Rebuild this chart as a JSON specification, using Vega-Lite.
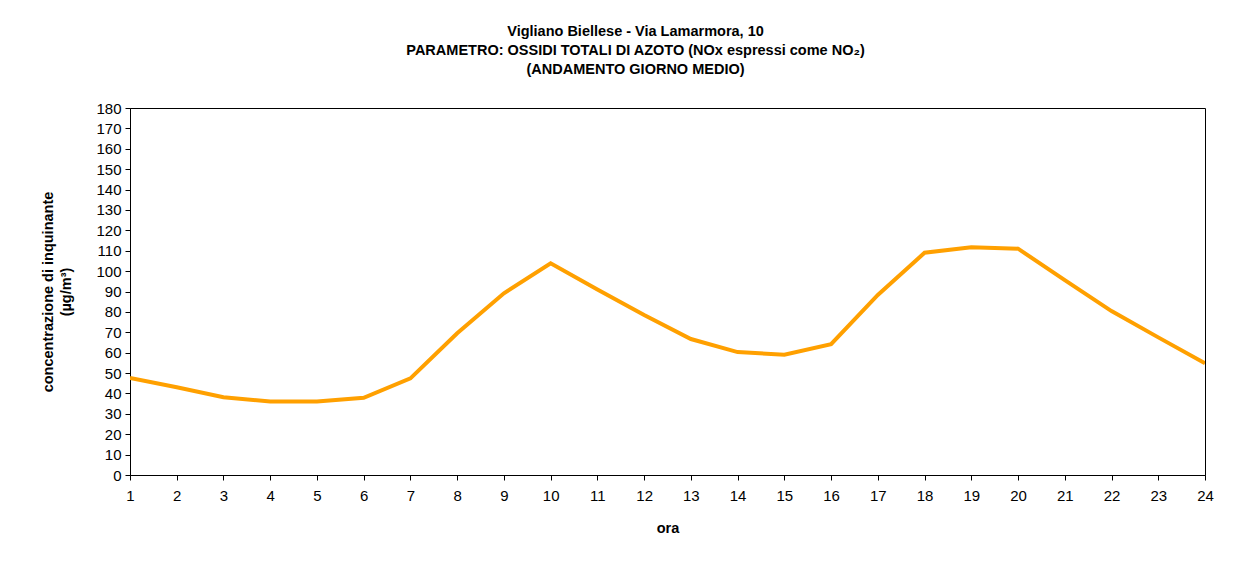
{
  "$schema": "https://vega.github.io/schema/vega-lite/v6.json",
  "autosize": {"type": "none"},
  "width": 1075,
  "height": 367,
  "padding": {"left": 130, "top": 108, "right": 50, "bottom": 93},
  "background": "white",
  "title": {
    "text": ["Vigliano Biellese - Via Lamarmora, 10", "PARAMETRO: OSSIDI TOTALI DI AZOTO (NOx espressi come NO₂)", "(ANDAMENTO GIORNO MEDIO)"],
    "font": "Liberation Sans",
    "fontSize": 14.5,
    "fontWeight": "bold",
    "color": "black",
    "lineHeight": 19,
    "anchor": "middle",
    "dx": -32,
    "offset": 24
  },
  "data": {
    "values": [
      {"ora": 1, "v": 47.6},
      {"ora": 2, "v": 43.0},
      {"ora": 3, "v": 38.1},
      {"ora": 4, "v": 36.0},
      {"ora": 5, "v": 36.0},
      {"ora": 6, "v": 37.9},
      {"ora": 7, "v": 47.4},
      {"ora": 8, "v": 69.5},
      {"ora": 9, "v": 89.1},
      {"ora": 10, "v": 103.8},
      {"ora": 11, "v": 91.0},
      {"ora": 12, "v": 78.5},
      {"ora": 13, "v": 66.7},
      {"ora": 14, "v": 60.3},
      {"ora": 15, "v": 59.0},
      {"ora": 16, "v": 64.2},
      {"ora": 17, "v": 88.3},
      {"ora": 18, "v": 109.0},
      {"ora": 19, "v": 111.7},
      {"ora": 20, "v": 111.0},
      {"ora": 21, "v": 95.6},
      {"ora": 22, "v": 80.4},
      {"ora": 23, "v": 67.5},
      {"ora": 24, "v": 54.8}
    ]
  },
  "mark": {"type": "line", "color": "#FFA000", "strokeWidth": 4, "clip": true},
  "encoding": {
    "x": {
      "field": "ora", "type": "quantitative",
      "scale": {"domain": [1, 24], "nice": false, "zero": false},
      "axis": {
        "title": "ora", "values": [1,2,3,4,5,6,7,8,9,10,11,12,13,14,15,16,17,18,19,20,21,22,23,24],
        "grid": false, "format": "d", "labelFlush": false,
        "labelFontSize": 15, "labelPadding": 8, "titlePadding": 18,
        "titleFontSize": 14.5, "titleFontWeight": "bold"
      }
    },
    "y": {
      "field": "v", "type": "quantitative",
      "scale": {"domain": [0, 180], "nice": false},
      "axis": {
        "title": ["concentrazione di inquinante", "(µg/m³)"],
        "values": [0,10,20,30,40,50,60,70,80,90,100,110,120,130,140,150,160,170,180],
        "grid": false, "labelFontSize": 15, "labelPadding": 4, "titlePadding": 22,
        "titleFontSize": 14.5, "titleFontWeight": "bold", "titleLineHeight": 18
      }
    }
  },
  "config": {
    "font": "Liberation Sans",
    "view": {"stroke": "black", "strokeWidth": 1},
    "axis": {
      "domainColor": "black", "tickColor": "black", "labelColor": "black", "titleColor": "black",
      "tickSize": 5, "labelFont": "Liberation Sans", "titleFont": "Liberation Sans",
      "labelFontWeight": "normal"
    }
  }
}
